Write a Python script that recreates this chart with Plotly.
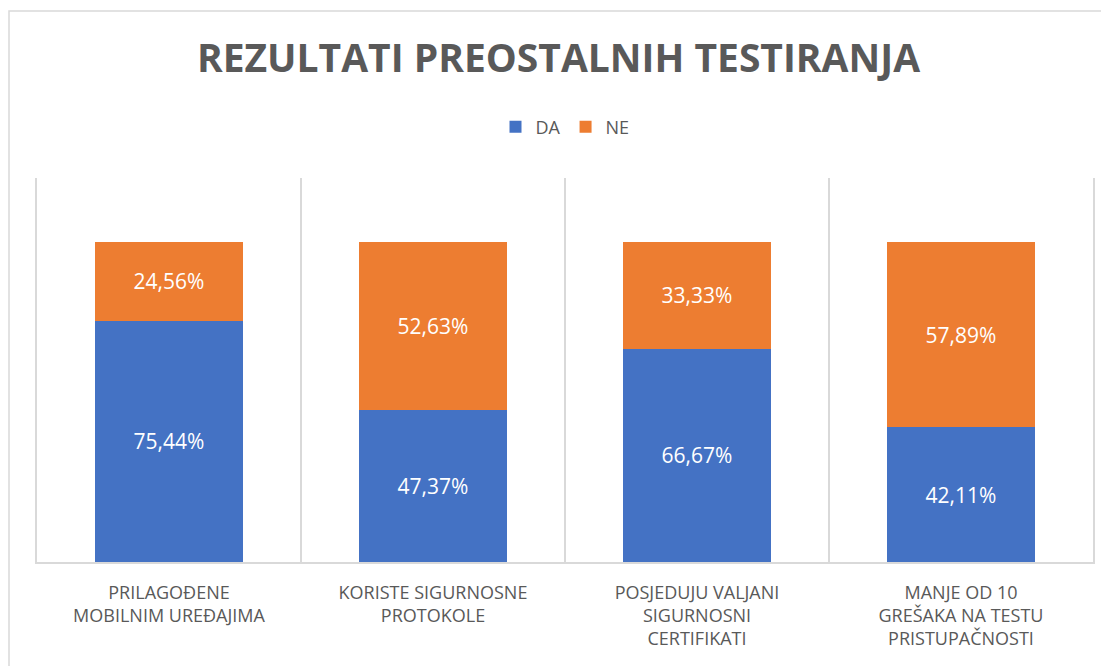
import plotly.graph_objects as go

categories = [
    "PRILAGOĐENE<br>MOBILNIM UREĐAJIMA",
    "KORISTE SIGURNOSNE<br>PROTOKOLE",
    "POSJEDUJU VALJANI<br>SIGURNOSNI<br>CERTIFIKATI",
    "MANJE OD 10<br>GREŠAKA NA TESTU<br>PRISTUPAČNOSTI",
]
da_values = [75.44, 47.37, 66.67, 42.11]
ne_values = [24.56, 52.63, 33.33, 57.89]

BLUE = "#4472C4"
ORANGE = "#ED7D31"
TEXT = "#595959"
GRID = "#D9D9D9"
FONT = "Open Sans"

# page body has an 8px margin; figure coordinates are screen - 8
W, H = 1101, 658
L, R, T, B = 29, 16, 170, 104
PH = H - T - B  # plot height

fig = go.Figure()
for name, vals, col in (("DA", da_values, BLUE), ("NE", ne_values, ORANGE)):
    fig.add_trace(go.Bar(
        name=name, x=categories, y=vals, marker=dict(color=col, line=dict(width=0)),
        texttemplate="%{y:.2f}%", textposition="inside", insidetextanchor="middle",
        textfont=dict(color="white", size=21, family=FONT), hoverinfo="skip",
    ))

fig.update_layout(
    width=W, height=H,
    barmode="stack", bargap=0.44,
    separators=",.",
    paper_bgcolor="white", plot_bgcolor="white",
    margin=dict(l=L, r=R, t=T, b=B, autoexpand=False),
    title=dict(
        text="<b>REZULTATI PREOSTALNIH TESTIRANJA</b>",
        x=0.5, xanchor="center", y=1 - 50 / H, yanchor="middle",
        font=dict(family=FONT, size=39, color=TEXT),
    ),
    legend=dict(
        orientation="h", x=0.5, xanchor="center", y=(H - B - 119) / PH, yanchor="middle",
        font=dict(family=FONT, size=18, color=TEXT), traceorder="normal",
        itemwidth=30, bgcolor="rgba(0,0,0,0)",
    ),
    uniformtext=dict(mode=False),
    showlegend=True,
)
fig.update_xaxes(
    type="category", tickson="boundaries", showgrid=True, gridcolor=GRID, gridwidth=2,
    showline=True, linecolor=GRID, linewidth=2, ticks="",
    tickfont=dict(family=FONT, size=18, color=TEXT), ticklabelstandoff=13,
    range=[-0.5, 3.5], zeroline=False,
)
fig.update_yaxes(
    range=[0, 120], showgrid=False, showticklabels=False, zeroline=False,
    showline=True, linecolor=GRID, linewidth=2, mirror=True,
)
fig.add_shape(
    type="rect", xref="paper", yref="paper",
    x0=(1 - L) / (W - L - R), x1=1.2, y0=-0.5, y1=(H - B - 3) / PH,
    line=dict(color=GRID, width=1.5), fillcolor="rgba(0,0,0,0)", layer="below",
)

fig.write_html("out.html")
